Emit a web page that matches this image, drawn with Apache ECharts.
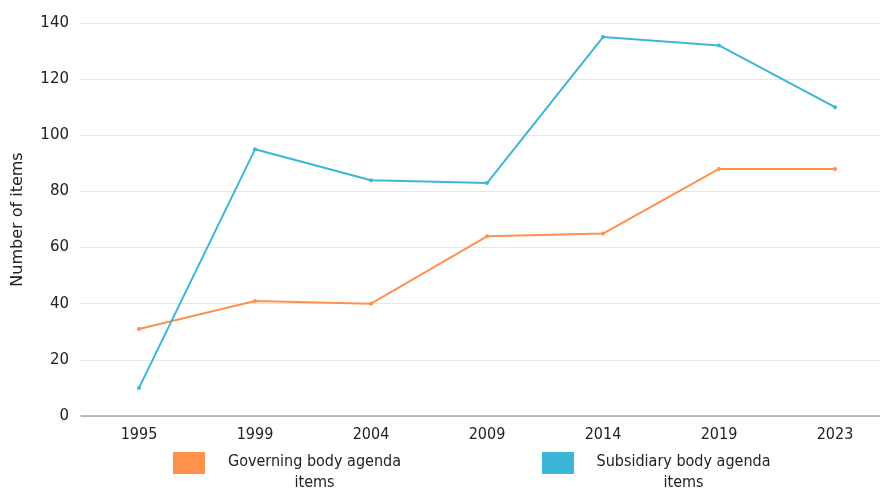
<!DOCTYPE html>
<html><head><meta charset="utf-8">
<script src="https://cdn.jsdelivr.net/npm/echarts@6/dist/echarts.min.js"></script>
<style>html,body{margin:0;padding:0;background:#fff}#c{width:880px;height:489px}</style>
</head><body><div id="c"></div>
<script>
const years = ['1995','1999','2004','2009','2014','2019','2023'];
const governing = [31, 41, 40, 64, 65, 88, 88];
const subsidiary = [10, 95, 84, 83, 135, 132, 110];
const yTicks = {min: 0, max: 140, interval: 20};

const narrow = "'Liberation Sans Narrow', 'DejaVu Sans Condensed', sans-serif";
const wide = "'DejaVu Sans', sans-serif";
const chart = echarts.init(document.getElementById('c'));
chart.setOption({
  animation: false,
  grid: {left: 81, width: 812, top: 23, bottom: 73, containLabel: false, outerBoundsMode: 'none'},
  legend: {
    top: 447, left: 168,
    itemWidth: 32, itemHeight: 22, itemGap: 135,
    icon: 'rect',
    formatter: n => { const p = n.split(' agenda '); return '{a|' + p[0] + ' agenda}\n{a|' + p[1] + '}'; },
    textStyle: {
      fontFamily: narrow, fontSize: 16, color: '#222', padding: [19, 0, 0, 12],
      rich: {a: {fontFamily: narrow, fontSize: 16, color: '#222', width: 185, align: 'center', lineHeight: 21}}
    },
    data: ['Governing body agenda items', 'Subsidiary body agenda items']
  },
  xAxis: {
    type: 'category', data: years, boundaryGap: true,
    axisLine: {lineStyle: {color: '#a6a6a6', width: 1.5}},
    axisTick: {show: false},
    axisLabel: {fontFamily: narrow, fontSize: 16, color: '#222', margin: 11}
  },
  yAxis: {
    type: 'value', min: yTicks.min, max: yTicks.max, interval: yTicks.interval,
    name: 'Number of items', nameLocation: 'middle', nameGap: 55, nameRotate: 90,
    nameTextStyle: {fontFamily: wide, fontSize: 16, color: '#222'},
    axisLine: {show: false}, axisTick: {show: false},
    axisLabel: {fontFamily: wide, fontSize: 15, color: '#222', margin: 12},
    splitLine: {lineStyle: {color: '#e6e6e6', width: 1}}
  },
  series: [
    {name: 'Governing body agenda items', type: 'line', data: governing,
     color: '#ff914d', symbol: 'circle', symbolSize: 4, lineStyle: {width: 2}},
    {name: 'Subsidiary body agenda items', type: 'line', data: subsidiary,
     color: '#3cb6d6', symbol: 'circle', symbolSize: 4, lineStyle: {width: 2}}
  ]
});
</script></body></html>
